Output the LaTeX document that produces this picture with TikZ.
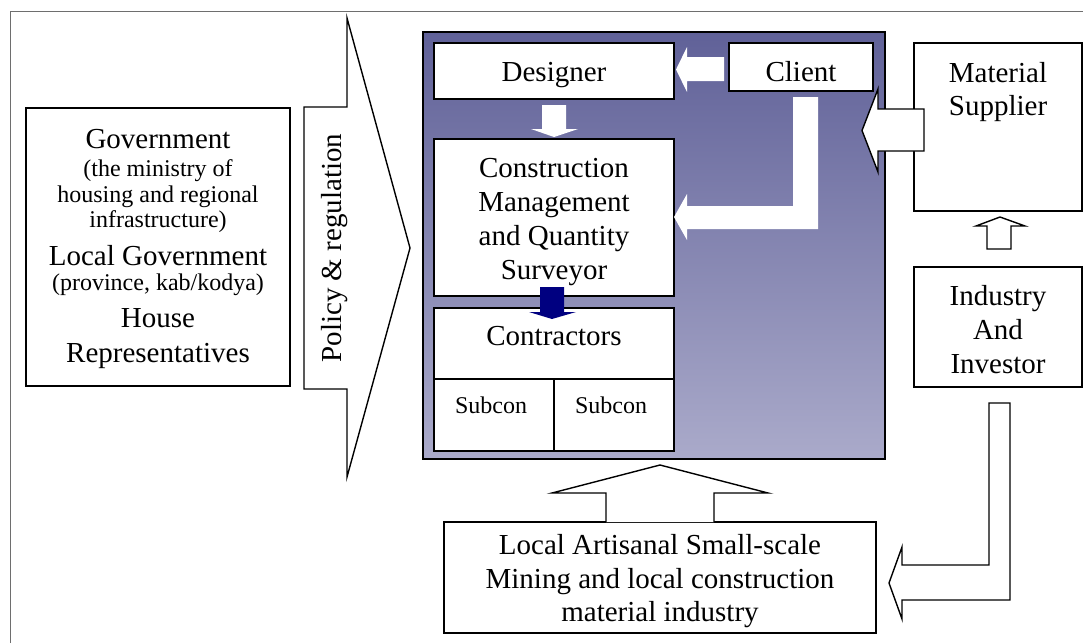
\documentclass[tikz,border=0pt]{standalone}
\usepackage{fontspec}
\setmainfont{Liberation Serif}
\begin{document}
\begin{tikzpicture}[x=1pt,y=-1pt,
  box/.style={draw, line width=1.8pt, fill=white, inner sep=0pt, outer sep=0pt},
  bigtext/.style={font=\fontsize{29}{34}\selectfont, anchor=base, inner sep=0pt},
  smalltext/.style={font=\fontsize{24}{26}\selectfont, anchor=base, inner sep=0pt},
  hollow/.style={draw, line width=1.4pt, fill=white, line join=miter},
  plain/.style={fill=white, draw=none},
  navyarrow/.style={fill=navyblue, draw=none}]
\definecolor{navyblue}{RGB}{0,0,128}
\definecolor{stagetop}{RGB}{96,97,152}
\definecolor{stagebottom}{RGB}{170,170,202}
\definecolor{framegray}{RGB}{110,110,110}

\useasboundingbox (0,0) rectangle (1083,643);

% outer frame
\draw[framegray, line width=1pt] (10,643) -- (10,11) -- (1083,11);

% government box
\node[box, minimum width=264pt, minimum height=278pt] (gov) at (158,247) {};
\node[bigtext]   (gov1) at (158,148) {Government};
\node[smalltext] (gov2) at (158,176) {(the ministry of};
\node[smalltext] (gov3) at (158,202) {housing and regional};
\node[smalltext] (gov4) at (158,227) {infrastructure)};
\node[bigtext]   (gov5) at (158,265) {Local Government};
\node[smalltext] (gov6) at (158,290) {(province, kab/kodya)};
\node[bigtext]   (gov7) at (158,327) {House};
\node[bigtext]   (gov8) at (158,362) {Representatives};

% policy arrow
\draw[hollow] (304,107) -- (347,107) -- (347,18) -- (410,248) -- (347,477)
  -- (347,389) -- (304,389) -- cycle;
\node[bigtext, rotate=90] (policy) at (341,248) {Policy \& regulation};

% project stage panel
\node[draw, line width=1.8pt, top color=stagetop, bottom color=stagebottom,
  minimum width=462pt, minimum height=427pt, inner sep=0pt, outer sep=0pt]
  (stage) at (654,245.5) {};

\node[box, minimum width=240pt, minimum height=56pt] (designer) at (554,71) {};
\node[bigtext] (designertext) at (554,81) {Designer};

\node[box, minimum width=144pt, minimum height=48pt] (client) at (801,67) {};
\node[bigtext] (clienttext) at (801,81) {Client};

\node[box, minimum width=240pt, minimum height=157pt] (cm) at (554,217.5) {};
\node[bigtext] (cm1) at (554,177) {Construction};
\node[bigtext] (cm2) at (554,211) {Management};
\node[bigtext] (cm3) at (554,245) {and Quantity};
\node[bigtext] (cm4) at (554,279) {Surveyor};

\node[box, minimum width=240pt, minimum height=143pt] (contractors) at (554,379.5) {};
\node[bigtext] (contractorstext) at (554,345) {Contractors};
\node[box, minimum width=120pt, minimum height=72pt] (subA) at (494,415) {};
\node[box, minimum width=120pt, minimum height=72pt] (subB) at (614,415) {};
\node[smalltext] (subAtext) at (491,413) {Subcon};
\node[smalltext] (subBtext) at (611,413) {Subcon};

% flows inside the panel
\fill[plain] (676,69.5) -- (687,47) -- (687,57) -- (724,57) -- (724,81)
  -- (687,81) -- (687,92) -- cycle;
\fill[plain] (542,105) -- (566,105) -- (566,129) -- (578,129) -- (554,137)
  -- (531,129) -- (542,129) -- cycle;
\fill[plain] (793,97) -- (818,97) -- (818,229) -- (687,229) -- (687,240)
  -- (674,217) -- (687,194) -- (687,206) -- (793,206) -- cycle;
\fill[navyarrow] (540,287) -- (564,287) -- (564,312) -- (576,312) -- (552,319)
  -- (529,312) -- (540,312) -- cycle;

% suppliers and industry
\node[box, minimum width=168pt, minimum height=168pt] (supplier) at (998,127) {};
\node[bigtext] (supplier1) at (998,82) {Material};
\node[bigtext] (supplier2) at (998,115) {Supplier};

\node[box, minimum width=168pt, minimum height=120pt] (industry) at (998,327) {};
\node[bigtext] (industry1) at (998,305) {Industry};
\node[bigtext] (industry2) at (998,339) {And};
\node[bigtext] (industry3) at (998,373) {Investor};

% local mining box
\node[box, minimum width=432pt, minimum height=111pt] (local) at (660,577.5) {};
\node[bigtext] (local1) at (660,554) {Local Artisanal Small-scale};
\node[bigtext] (local2) at (660,588) {Mining and local construction};
\node[bigtext] (local3) at (660,621) {material industry};

% outlined flows
\draw[hollow] (924,109) -- (924,151) -- (878,151) -- (878,172) -- (862,130.5)
  -- (878,89) -- (878,109) -- cycle;
\draw[hollow] (987,249) -- (1011,249) -- (1011,226) -- (1025,226) -- (1000,217)
  -- (976,226) -- (987,226) -- cycle;
\draw[hollow] (989,403) -- (1010,403) -- (1010,600) -- (902,600) -- (902,619)
  -- (889,583) -- (902,547) -- (902,565) -- (989,565) -- cycle;
\draw[hollow] (606,522) -- (606,493) -- (552,493) -- (660,465) -- (768,493)
  -- (714,493) -- (714,522);
\end{tikzpicture}
\end{document}
